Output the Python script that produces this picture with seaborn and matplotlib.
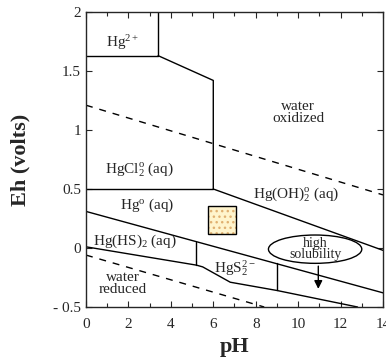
import numpy as np
import pandas as pd
import seaborn as sns
import matplotlib.pyplot as plt
from matplotlib.patches import Rectangle, Ellipse

# stability field boundaries (pH, Eh)
hg2_box_ph = [0, 3.4, 3.4]
hg2_box_eh = [1.63, 1.63, 2.0]
hgcl2_top_ph = [3.4, 6.0, 6.0]
hgcl2_top_eh = [1.63, 1.42, 0.5]
hgcl2_bot_ph = [0, 6.0]
hgcl2_bot_eh = [0.5, 0.5]
hgoh2_bot_ph = [6.0, 14.0]
hgoh2_bot_eh = [0.5, -0.02]
hg0_bot_ph = [0, 14.0]
hg0_bot_eh = [0.31, -0.38]
hghs_bot_ph = [0, 5.2, 5.5, 6.8, 9.0, 12.8]
hghs_bot_eh = [0.01, -0.145, -0.16, -0.29, -0.36, -0.5]
split1_ph = [5.2, 5.2]
split1_eh = [0.055, -0.145]
split2_ph = [9.0, 9.0]
split2_eh = [-0.13, -0.36]
# water stability limits
water_ox_ph = [0, 14.0]
water_ox_eh = [1.21, 0.45]
water_red_ph = [0, 8.4]
water_red_eh = [-0.06, -0.5]

solid = [(hg2_box_ph, hg2_box_eh), (hgcl2_top_ph, hgcl2_top_eh),
         (hgcl2_bot_ph, hgcl2_bot_eh), (hgoh2_bot_ph, hgoh2_bot_eh),
         (hg0_bot_ph, hg0_bot_eh), (hghs_bot_ph, hghs_bot_eh),
         (split1_ph, split1_eh), (split2_ph, split2_eh)]
dashed = [(water_ox_ph, water_ox_eh), (water_red_ph, water_red_eh)]

rows = []
for i, (p, e) in enumerate(solid):
    rows += [dict(seg=i, pH=a, Eh=b, kind="solid") for a, b in zip(p, e)]
for i, (p, e) in enumerate(dashed):
    rows += [dict(seg=100 + i, pH=a, Eh=b, kind="dash") for a, b in zip(p, e)]
df = pd.DataFrame(rows)

sns.set_style("ticks")
plt.rcParams["font.family"] = ["Liberation Serif", "DejaVu Serif"]
plt.rcParams["mathtext.fontset"] = "custom"
plt.rcParams["mathtext.rm"] = "Liberation Serif"
plt.rcParams["mathtext.it"] = "Liberation Serif:italic"

fig = plt.figure(figsize=(3.86, 3.62), dpi=100)
ax = fig.add_axes([86 / 386, 1 - 307 / 362, 297 / 386, 295 / 362])

sns.lineplot(data=df[df.kind == "solid"], x="pH", y="Eh", units="seg",
             estimator=None, sort=False, color="black", lw=1.0, ax=ax)
sns.lineplot(data=df[df.kind == "dash"], x="pH", y="Eh", units="seg",
             estimator=None, sort=False, color="black", lw=1.0,
             dashes=False, linestyle=(0, (5, 5)), ax=ax)

# sample box
ax.add_patch(Rectangle((5.75, 0.12), 1.33, 0.24, facecolor="#fff4cc",
                       edgecolor="#e0b070", hatch="...", lw=0))
ax.add_patch(Rectangle((5.75, 0.12), 1.33, 0.24, facecolor="none",
                       edgecolor="black", lw=1.0))

# high solubility callout
ax.add_patch(Ellipse((10.8, -0.01), 4.4, 0.24, facecolor="white",
                     edgecolor="black", lw=1.0, zorder=3))
ax.text(10.8, -0.01, "high\nsolubility", ha="center", va="center",
        fontsize=10, linespacing=0.85, zorder=4)
ax.annotate("", xy=(10.95, -0.37), xytext=(10.95, -0.13),
            arrowprops=dict(arrowstyle="-|>", color="black", lw=1.0,
                            mutation_scale=12))

fs = 11
ax.text(1.7, 1.74, r"Hg$^{2+}$", ha="center", va="center", fontsize=fs)
ax.text(10.0, 1.15, "water\noxidized", ha="center", va="center",
        fontsize=fs, linespacing=0.9)
ax.text(2.5, 0.67, r"HgCl$_2^{\rm o}$ (aq)", ha="center", va="center", fontsize=fs)
ax.text(2.9, 0.36, r"Hg$^{\rm o}$ (aq)", ha="center", va="center", fontsize=fs)
ax.text(9.9, 0.46, r"Hg(OH)$_2^{\rm o}$ (aq)", ha="center", va="center", fontsize=fs)
ax.text(2.3, 0.06, r"Hg(HS)$_2$ (aq)", ha="center", va="center", fontsize=fs)
ax.text(7.0, -0.17, r"HgS$_2^{2-}$", ha="center", va="center", fontsize=fs)
ax.text(1.75, -0.3, "water\nreduced", ha="center", va="center",
        fontsize=fs, linespacing=0.9)

ax.set_xlim(0, 14)
ax.set_ylim(-0.5, 2)
ax.set_xticks(np.arange(0, 15, 2))
ax.set_xticks(np.arange(0, 15, 1), minor=True)
ax.set_yticks([-0.5, 0, 0.5, 1, 1.5, 2])
ax.set_yticklabels(["- 0.5", "0", "0.5", "1", "1.5", "2"])
ax.tick_params(which="both", direction="in", top=True, right=True,
               labelsize=11, width=0.8)
ax.tick_params(which="major", length=4)
ax.tick_params(which="minor", length=3)
ax.tick_params(axis="x", pad=8)
for s in ax.spines.values():
    s.set_linewidth(1.0)
ax.set_xlabel("pH", fontsize=16, fontweight="bold", labelpad=4)
ax.set_ylabel("Eh (volts)", fontsize=16, fontweight="bold", labelpad=16)

fig.savefig("out.png", dpi=100)
